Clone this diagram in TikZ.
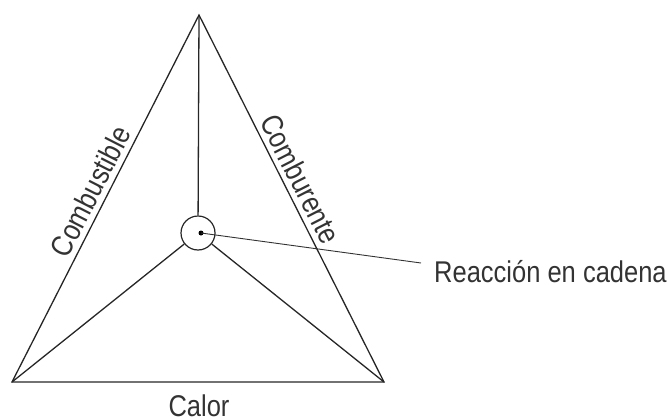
\documentclass[tikz,border=0pt]{standalone}
\usepackage{fontspec}
\setmainfont{Liberation Sans}[FakeStretch=0.85]
\begin{document}
\begin{tikzpicture}[x=1pt,y=-1pt,
  edge/.style={line width=1.3pt,black!85},
  lbl/.style={font=\fontsize{30}{30}\selectfont,inner sep=0pt,anchor=base,text=black!80}]
\useasboundingbox (0,0) rectangle (668,417);
\coordinate (apex) at (199,15);
\coordinate (bl) at (12,382);
\coordinate (br) at (384,382);
\node[circle,draw,line width=1.2pt,black!85,minimum size=34pt,inner sep=0pt] (c) at (198,233) {};
\node[circle,fill=black,minimum size=5pt,inner sep=0pt] (dot) at (201,233) {};
\coordinate (lead) at (421,263);
\draw[edge] (apex) -- (bl) -- (br) -- cycle;
\draw[edge] (apex) -- (c);
\draw[edge] (c) -- (bl);
\draw[edge] (c) -- (br);
\draw[line width=0.9pt,black!80] (dot.center) -- (lead);
\node[lbl,rotate=63] (comb) at (100,196) {Combustible};
\node[lbl,rotate=-63] (combu) at (291,184) {Comburente};
\node[lbl] (calor) at (199,416) {Calor};
\node[lbl,anchor=base west] (reac) at (434,282) {Reacción en cadena};
\end{tikzpicture}
\end{document}
